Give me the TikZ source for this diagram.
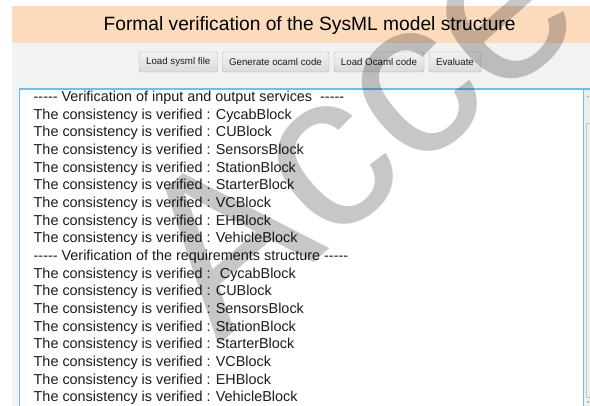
\documentclass[tikz,border=0pt]{standalone}
\usepackage{fontspec}
\setmainfont{Liberation Sans}
\definecolor{headerorange}{RGB}{252,218,188}
\definecolor{panelgray}{RGB}{242,242,242}
\definecolor{areablue}{RGB}{108,194,226}
\definecolor{btntop}{RGB}{242,242,242}
\definecolor{btnbottom}{RGB}{218,218,218}
\definecolor{btnborder}{RGB}{172,172,172}
\definecolor{inktext}{RGB}{28,28,28}
\definecolor{trackgray}{RGB}{238,238,238}
\newcommand{\dashrun}{-{}-{}-{}-{}-}
\tikzset{
  titletext/.style={inner sep=0pt, anchor=base, text=black, font=\fontsize{19.2}{22}\selectfont},
  btn/.style={draw=btnborder, rounded corners=2pt, top color=btntop, bottom color=btnbottom,
              minimum height=20pt, inner sep=0pt, text=inktext, font=\fontsize{9.7}{11}\selectfont},
  logline/.style={inner sep=0pt, anchor=base west, text=inktext, font=\fontsize{14.4}{16}\selectfont},
  stamp/.style={inner sep=0pt, anchor=base west, text=black, text opacity=0.22,
                font=\fontsize{222}{222}\selectfont}
}
\begin{document}
\begin{tikzpicture}[x=1pt,y=-1pt]
\useasboundingbox (0,0) rectangle (590,406);
\fill[white] (0,0) rectangle (590,406);
% window panel and title band
\fill[panelgray] (12,43) rectangle (590,406);
\fill[headerorange] (12,6) rectangle (590,43);
\node[titletext] (title) at (309.6,30.7) {Formal verification of the SysML model structure};
% tool buttons
\node[btn, minimum width=78.5pt] (bload) at (178.25,62) {Load sysml file};
\node[btn, minimum width=107pt] (bgen) at (275.5,62) {Generate ocaml code};
\node[btn, minimum width=90pt] (bocaml) at (379,62) {Load Ocaml code};
\node[btn, minimum width=52pt] (beval) at (455,62) {Evaluate};
% output text area
\fill[white] (19,89) rectangle (583,406);
\fill[trackgray] (583.5,90) rectangle (590,406);
\draw[btnborder!70, line width=0.6pt] (586,123) -- (590,123);
\draw[btnborder!70, line width=0.6pt] (586,123) -- (586,397) -- (590,397);
\draw[gray, line width=0.4pt] (587,97.5) -- (588,96) -- (589,97.5);
\draw[gray, line width=0.4pt] (587,401) -- (588,402.5) -- (589,401);
\draw[areablue, line width=0.8pt] (583.2,89) -- (583.2,406);
\draw[areablue, line width=1pt] (19,406) -- (19,89.5);
\draw[areablue, line width=1.6pt] (18.5,89.3) -- (590,89.3);
% log lines
\node[logline] (l1) at (33.5,101.6) {\dashrun\ Verification of input and output services \ \dashrun};
\foreach \blk [count=\i from 2] in {CycabBlock,CUBlock,SensorsBlock,StationBlock,StarterBlock,VCBlock,EHBlock,VehicleBlock}
  \node[logline] (l\i) at (33.5,{101.6+(\i-1)*17.67}) {The consistency is verified : \blk};
\node[logline] (l10) at (33.5,{101.6+9*17.67}) {\dashrun\ Verification of the requirements structure \dashrun};
\node[logline] (l11) at (33.5,{101.6+10*17.67}) {The consistency is verified : \ CycabBlock};
\foreach \blk [count=\i from 12] in {CUBlock,SensorsBlock,StationBlock,StarterBlock,VCBlock,EHBlock,VehicleBlock}
  \node[logline] (l\i) at (33.5,{101.6+(\i-1)*17.67}) {The consistency is verified : \blk};
% stamp across the page
\node[stamp, rotate=41] (stampword) at (218,346) {Accepted};
\end{tikzpicture}
\end{document}
